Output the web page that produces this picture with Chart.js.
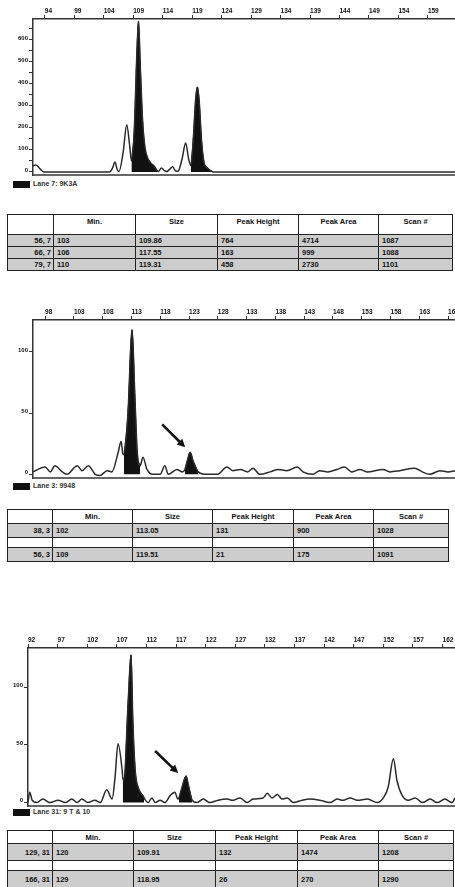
<!DOCTYPE html>
<html>
<head>
<meta charset="utf-8">
<script src="https://cdn.jsdelivr.net/npm/chart.js@4.4.1/dist/chart.umd.min.js"></script>
<style>
  body { margin: 0; width: 455px; height: 887px; overflow: hidden; background: #fff; position: relative; font-family: "Liberation Sans", Arial, sans-serif; }
  canvas { position: absolute; left: 0; }
  .lane { position: absolute; left: 13px; font: bold 7px "Liberation Sans"; color: #333; white-space: nowrap; }
  .lane span { display: inline-block; width: 17px; height: 7px; background: #111; vertical-align: middle; margin-right: 3px; }
  table { position: absolute; left: 7px; border-collapse: collapse; table-layout: fixed; font: bold 7.5px "Liberation Sans"; color: #111; }
  td { border: 1.5px solid #222; padding: 0 3px; white-space: nowrap; overflow: hidden; text-align: left; }
  tr.hd td { background: #fff; text-align: center; vertical-align: top; padding-top: 2px; }
  tr.row td { background: #cdcdcd; }
  tr.row td:first-child { text-align: right; padding-right: 2px; }
  tr.gap td { background: #fff; }
</style>
</head>
<body>
<canvas id="c7" width="455" height="177" style="top:0px"></canvas>
<div class="lane" style="top:180px"><span></span>Lane 7: 9K3A</div>
<table id="t7" style="top:214px;width:445px"></table>

<canvas id="c3" width="455" height="180" style="top:300px"></canvas>
<div class="lane" style="top:482px"><span></span>Lane 3: 9948</div>
<table id="t3" style="top:509px;width:441px"></table>

<canvas id="c31" width="455" height="180" style="top:628px"></canvas>
<div class="lane" style="top:808px"><span></span>Lane 31: 9 T &amp; 10</div>
<table id="t31" style="top:830px;width:446px"></table>

<script>
// lane 7
var bp7 = [92.0, 92.5, 93.2, 93.8, 105.0, 105.5, 105.9, 106.3, 106.6, 107.3, 107.9, 108.4, 108.7, 109.2, 109.6,
  109.9, 110.2, 110.6, 111.0, 111.5, 112.0, 112.6, 113.0, 113.3, 113.8, 114.3, 114.7, 115.2, 115.7, 116.2,
  116.6, 117.3, 117.9, 118.4, 118.8, 119.2, 119.6, 119.9, 120.2, 120.6, 121.0, 121.5, 122.0, 122.6, 163.6];
var ht7 = [28, 32, 14, 0, 0, 18, 45, 10, 2, 90, 214, 120, 50, 200, 520,
  685, 480, 230, 110, 60, 40, 25, 8, 2, 18, 6, 2, 12, 23, 4,
  3, 60, 132, 60, 28, 150, 330, 386, 320, 140, 45, 20, 8, 0, 0];
var fills7 = [[108.7, 113.3], [118.8, 122.6]];
var ticks7 = [94, 99, 104, 109, 114, 119, 124, 129, 134, 139, 144, 149, 154, 159];
var yTicks7 = [0, 50, 100, 150, 200, 250, 300, 350, 400, 450, 500, 550, 600, 650];

// lane 3
var bp3 = [95.9, 98.0, 98.9, 99.7, 101.0, 101.8, 103.6, 104.4, 105.5, 106.7, 107.5, 108.8, 109.6, 110.7, 111.2,
  111.5, 111.7, 112.4, 113.1, 113.6, 114.0, 114.5, 115.0, 115.7, 116.7, 118.0, 118.8, 119.4, 120.9, 121.8,
  122.3, 122.7, 123.2, 123.7, 124.6, 126.1, 127.9, 129.6, 130.6, 131.9, 133.2, 134.1, 135.3, 137.1, 138.5,
  140.0, 141.8, 142.8, 144.5, 145.7, 147.1, 148.7, 150.0, 151.3, 152.7, 153.9, 156.7, 157.9, 159.6, 162.2,
  163.5, 164.8, 166.6, 168.0, 169.2];
var ht3 = [2, 6, 2, 7, 2, 0, 7, 3, 7, 0, -1, 3, 2, 18, 27,
  17, 16, 50, 118, 63, 18, 7, 14, 4, 0, 0, 7, 0, 4, 2,
  4, 11, 18, 11, 2, 0, 0, 6, 3, 4, 2, 5, 0, 2, 4,
  3, 6, 2, 0, 3, 2, 4, 6, 2, 4, 2, 4, 2, 3, 5,
  2, 0, 3, 2, 3];
var fills3 = [[111.7, 114.5], [122.3, 124.6]];
var ticks3 = [98, 103, 108, 113, 118, 123, 128, 133, 138, 143, 148, 153, 158, 163, 168];
var yTicks3 = [0, 50, 100];

// lane 31
var bp31 = [92.0, 92.3, 92.7, 93.5, 94.5, 95.7, 97.1, 98.3, 99.4, 100.3, 101.1, 102.1, 103.3, 104.2, 105.3,
  106.2, 106.7, 107.2, 107.9, 108.0, 108.2, 108.9, 109.4, 109.7, 110.1, 110.6, 111.4, 111.6, 112.3, 112.9,
  113.5, 114.3, 115.1, 116.0, 116.8, 117.3, 117.5, 118.0, 118.7, 119.0, 119.7, 120.5, 121.6, 122.7, 124.1,
  125.6, 126.6, 127.8, 129.0, 130.0, 131.7, 132.4, 133.2, 134.1, 134.9, 135.8, 136.8, 138.3, 139.6, 141.3,
  143.0, 144.2, 145.2, 146.4, 147.6, 149.3, 151.0, 152.0, 152.8, 153.7, 154.3, 155.2, 156.2, 157.4, 158.6,
  159.9, 161.1, 162.4, 163.6, 164.1];
var ht31 = [0, 9, 2, 0, 3, 0, 2, 0, 3, 0, 3, 0, 2, 0, 11,
  3, 22, 51, 28, 22, 19, 86, 128, 71, 28, 13, 6, 4, 0, 4,
  0, 2, 0, 6, 9, 3, 4, 13, 23, 17, 2, 0, 3, 0, 2,
  3, 2, 4, 0, 3, 4, 8, 4, 7, 3, 4, 0, 2, 3, 2,
  0, 3, 2, 4, 2, 3, 0, 4, 13, 38, 19, 6, 2, 4, 0,
  3, 0, 3, 0, 4];
var fills31 = [[108.0, 111.6], [117.5, 119.7]];
var ticks31 = [92, 97, 102, 107, 112, 117, 122, 127, 132, 137, 142, 147, 152, 157, 162];
var yTicks31 = [0, 50, 100];

// tables
var heads = ["", "Min.", "Size", "Peak Height", "Peak Area", "Scan #"];
var rows7 = [["56, 7", "103", "109.86", "764", "4714", "1087"],
             ["66, 7", "106", "117.55", "163", "999", "1088"],
             ["79, 7", "110", "119.31", "458", "2730", "1101"]];
var rows3 = [["38, 3", "102", "113.05", "131", "900", "1028"],
             ["56, 3", "109", "119.51", "21", "175", "1091"]];
var rows31 = [["129, 31", "120", "109.91", "132", "1474", "1208"],
              ["166, 31", "129", "118.95", "26", "270", "1290"]];

Chart.defaults.font.family = "Liberation Sans";
Chart.defaults.color = "#111";

const frame = {
  id: "frame",
  afterDraw(chart) {
    const a = chart.chartArea, c = chart.ctx;
    c.save();
    c.strokeStyle = "#333";
    c.lineWidth = 1.5;
    c.beginPath();
    c.moveTo(a.left, a.bottom);
    c.lineTo(a.right, a.bottom);
    c.stroke();
    c.restore();
  }
};

// arrow pointing at the top of one of the filled peaks
const arrowMark = {
  id: "arrowMark",
  afterDatasetsDraw(chart, args, o) {
    if (!o || o.ds === undefined) return;
    const pts = chart.data.datasets[o.ds].data;
    const top = pts.reduce((a, b) => b.y > a.y ? b : a);
    const tx = chart.scales.x.getPixelForValue(top.x) + o.tip[0];
    const ty = chart.scales.y.getPixelForValue(top.y) + o.tip[1];
    const sx = tx + o.tail[0], sy = ty + o.tail[1];
    const ang = Math.atan2(ty - sy, tx - sx);
    const c = chart.ctx;
    c.save();
    c.strokeStyle = "#111";
    c.fillStyle = "#111";
    c.lineWidth = 2.5;
    c.beginPath();
    c.moveTo(sx, sy);
    c.lineTo(tx - 5 * Math.cos(ang), ty - 5 * Math.sin(ang));
    c.stroke();
    c.beginPath();
    c.moveTo(tx, ty);
    c.lineTo(tx - 8 * Math.cos(ang) + 4 * Math.sin(ang), ty - 8 * Math.sin(ang) - 4 * Math.cos(ang));
    c.lineTo(tx - 8 * Math.cos(ang) - 4 * Math.sin(ang), ty - 8 * Math.sin(ang) + 4 * Math.cos(ang));
    c.closePath();
    c.fill();
    c.restore();
  }
};

function trace(id, bp, ht, fills, ticksX, ticksY, yLabel, cfg) {
  const pts = bp.map((x, i) => ({ x: x, y: ht[i] }));
  const ds = [{
    data: pts, borderColor: "#2a2a2a", borderWidth: 1.5, pointRadius: 0,
    fill: false, cubicInterpolationMode: "monotone"
  }];
  fills.forEach(r => ds.push({
    data: pts.filter(p => p.x >= r[0] && p.x <= r[1]),
    borderColor: "#111", borderWidth: 1, backgroundColor: "#111",
    pointRadius: 0, fill: "origin", cubicInterpolationMode: "monotone"
  }));

  new Chart(id, {
    type: "line",
    data: { datasets: ds },
    options: {
      responsive: false,
      animation: false,
      devicePixelRatio: 1,
      layout: { padding: { top: 0, left: 0, right: 0, bottom: 2 } },
      plugins: { legend: { display: false }, tooltip: { enabled: false }, arrowMark: cfg.arrow || false },
      scales: {
        x: {
          type: "linear", position: "top", min: cfg.xMin, max: cfg.xMax,
          afterBuildTicks: s => { s.ticks = ticksX.map(v => ({ value: v })); },
          afterFit: s => { s.height = cfg.top; s.paddingLeft = 0; s.paddingRight = 0; },
          grid: { drawOnChartArea: false, drawTicks: true, tickLength: 4, color: "#333", lineWidth: 1 },
          border: { display: true, color: "#333", width: 1.5 },
          ticks: { align: "start", padding: 0, maxRotation: 0, autoSkip: false,
                   font: { size: 6.5, weight: "bold" }, callback: v => v }
        },
        y: {
          min: cfg.yMin, max: cfg.yMax,
          afterBuildTicks: s => { s.ticks = ticksY.map(v => ({ value: v })); },
          afterFit: s => { s.width = cfg.left; s.paddingTop = 0; s.paddingBottom = 0; },
          grid: { drawOnChartArea: false, drawTicks: true, tickLength: 4, color: "#333", lineWidth: 1 },
          border: { display: true, color: "#333", width: 1.5 },
          ticks: { padding: 1, labelOffset: -2, autoSkip: false,
                   font: { size: 6, weight: "bold" }, callback: yLabel }
        }
      }
    },
    plugins: [frame, arrowMark]
  });
}

trace("c7", bp7, ht7, fills7, ticks7, yTicks7, v => v % 100 === 0 ? v : "",
  { xMin: 92.0, xMax: 163.6, yMin: -14, yMax: 695, top: 19, left: 33 });
trace("c3", bp3, ht3, fills3, ticks3, yTicks3, v => v,
  { xMin: 95.9, xMax: 169.2, yMin: -3, yMax: 126, top: 20, left: 33,
    arrow: { ds: 2, tip: [-5, -5], tail: [-23, -23] } });
trace("c31", bp31, ht31, fills31, ticks31, yTicks31, v => v,
  { xMin: 92.0, xMax: 164.1, yMin: -3, yMax: 134, top: 20, left: 28,
    arrow: { ds: 2, tip: [-8, -3], tail: [-23, -22] } });

function makeTable(id, rows, cols, headH, rowH, gapH) {
  let html = "<colgroup>" + cols.map(w => '<col style="width:' + w + 'px">').join("") + "</colgroup>";
  html += '<tr class="hd" style="height:' + headH + 'px">' + heads.map(h => "<td>" + h + "</td>").join("") + "</tr>";
  rows.forEach((r, i) => {
    if (i > 0 && gapH) html += '<tr class="gap" style="height:' + gapH + 'px">' + heads.map(() => "<td></td>").join("") + "</tr>";
    html += '<tr class="row" style="height:' + rowH + 'px">' + r.map(c => "<td>" + c + "</td>").join("") + "</tr>";
  });
  document.getElementById(id).innerHTML = html;
}

makeTable("t7", rows7, [46, 82, 82, 81, 80, 74], 20, 12, 0);
makeTable("t3", rows3, [45, 80, 80, 81, 80, 75], 14, 14, 10);
makeTable("t31", rows31, [45, 81, 82, 82, 81, 75], 13, 17, 10);
</script>
</body>
</html>
